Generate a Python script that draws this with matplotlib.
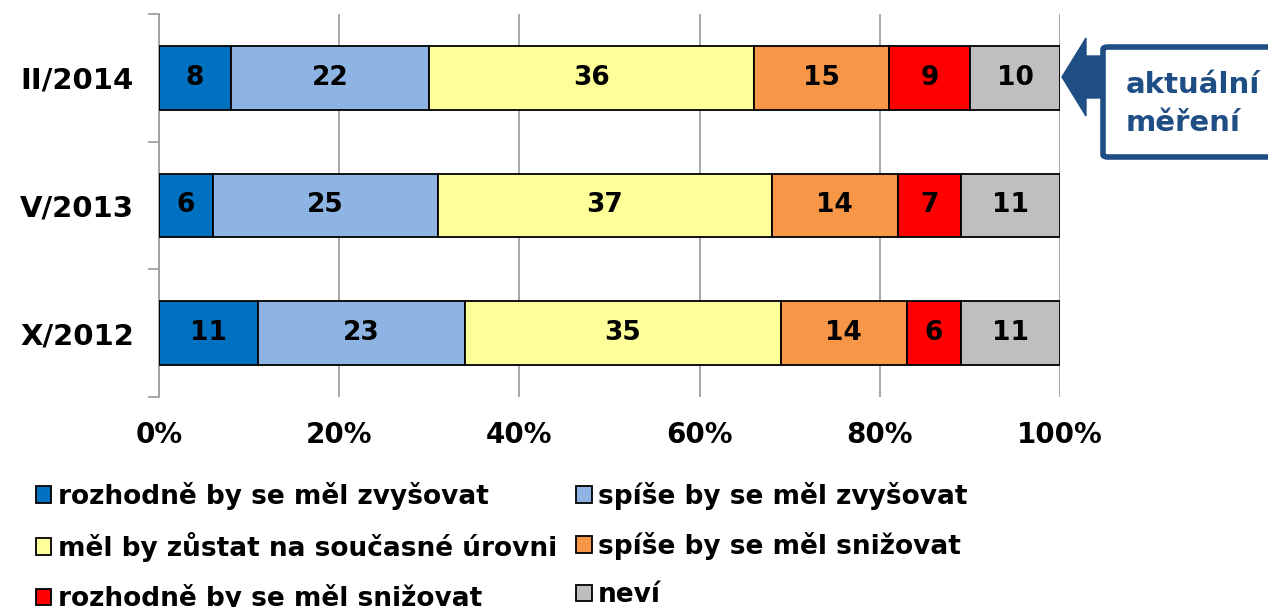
import matplotlib.pyplot as plt
from matplotlib.patches import Polygon, FancyBboxPatch
from matplotlib.ticker import PercentFormatter

periods = ["X/2012", "V/2013", "II/2014"]
series = [
    "rozhodně by se měl zvyšovat",
    "spíše by se měl zvyšovat",
    "měl by zůstat na současné úrovni",
    "spíše by se měl snižovat",
    "rozhodně by se měl snižovat",
    "neví",
]
values = [
    [11, 6, 8],
    [23, 25, 22],
    [35, 37, 36],
    [14, 14, 15],
    [6, 7, 9],
    [11, 11, 10],
]
colors = ["#0070C0", "#8DB4E2", "#FFFF99", "#F79646", "#FF0000", "#BFBFBF"]

plt.rcParams.update({"font.family": "DejaVu Sans", "font.weight": "bold"})

fig = plt.figure(figsize=(12.68, 6.07), dpi=100)
ax = fig.add_axes([159 / 1268, 1 - 397 / 607, 901 / 1268, 383 / 607])

ypos = range(len(periods))
left = [0] * len(periods)
for name, vals, col in zip(series, values, colors):
    bars = ax.barh(ypos, vals, left=left, height=0.5, color=col,
                   edgecolor="black", linewidth=1.3, label=name, zorder=3)
    for b, v in zip(bars, vals):
        ax.text(b.get_x() + b.get_width() / 2, b.get_y() + b.get_height() / 2,
                str(v), ha="center", va="center", fontsize=19,
                fontweight="bold", zorder=4)
    left = [l + v for l, v in zip(left, vals)]

ax.set_xlim(0, 100)
ax.set_ylim(-0.5, 2.5)
ax.xaxis.set_major_formatter(PercentFormatter(decimals=0))
ax.set_xticks([0, 20, 40, 60, 80, 100])
ax.grid(axis="x", color="#A0A0A0", linewidth=1.3, zorder=0)
ax.set_yticks([-0.5, 0.5, 1.5, 2.5], minor=False)
ax.set_yticklabels([])
ax.set_yticks(list(ypos), minor=True)
ax.set_yticklabels(periods, minor=True)
ax.tick_params(axis="y", which="major", length=8, color="#A0A0A0", width=1.3)
ax.tick_params(axis="y", which="minor", length=0, pad=18, labelsize=21)
ax.tick_params(axis="x", length=0, pad=17, labelsize=20)
for s in ["top", "right", "bottom"]:
    ax.spines[s].set_visible(False)
ax.spines["left"].set_color("#A0A0A0")
ax.spines["left"].set_linewidth(1.3)

# legend is filled row by row
handles, labels = ax.get_legend_handles_labels()
order = [0, 2, 4, 1, 3, 5]
fig.legend([handles[i] for i in order], [labels[i] for i in order], ncol=2,
           loc="upper left", bbox_to_anchor=(25 / 1268, 1 - 471 / 607),
           frameon=False, fontsize=19, handlelength=0.6, handleheight=0.6,
           handletextpad=0.25, columnspacing=0.7, labelspacing=0.85,
           borderaxespad=0)

# callout "aktuální měření"
navy = "#1F4E85"
W, H = 1268, 607
arrow = [(1062, 77), (1086, 38), (1086, 56), (1104, 56), (1104, 98),
         (1086, 98), (1086, 116)]
fig.patches.append(Polygon([(x / W, 1 - y / H) for x, y in arrow],
                           closed=True, transform=fig.transFigure,
                           facecolor=navy, edgecolor=navy))
fig.patches.append(FancyBboxPatch((1103 / W, 1 - 157 / H), 180 / W, 110 / H,
                                  boxstyle="round,pad=0,rounding_size=0.004",
                                  transform=fig.transFigure, facecolor="white",
                                  edgecolor=navy, linewidth=4))
fig.text(1126 / W, 1 - 104 / H, "aktuální\nměření", ha="left", va="center",
         color=navy, fontsize=21, fontweight="bold", linespacing=1.45)

fig.savefig("out.png", dpi=100)
